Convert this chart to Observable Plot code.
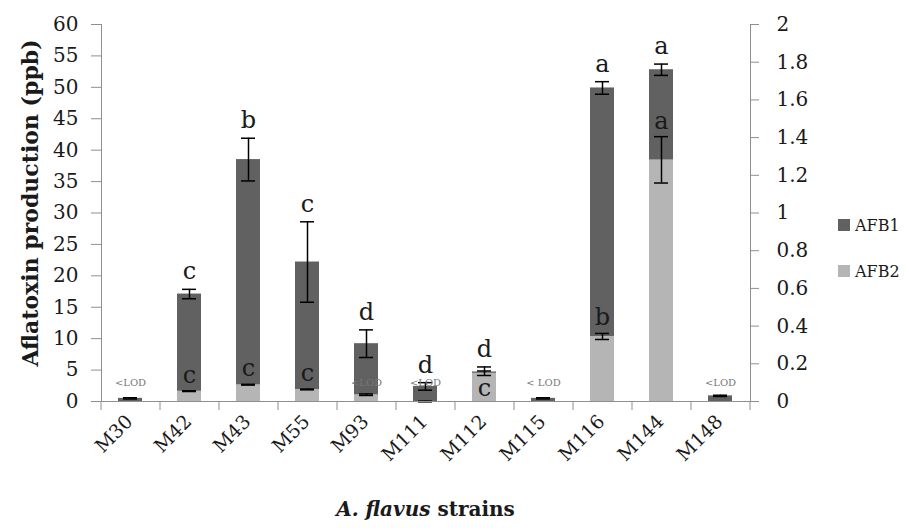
<!DOCTYPE html>
<html><head><meta charset="utf-8">
<script src="https://cdn.jsdelivr.net/npm/d3@7"></script>
<script src="https://cdn.jsdelivr.net/npm/@observablehq/plot@0.6"></script>
<style>
body{margin:0;background:#fff;}
#wrap{position:relative;width:909px;height:532px;overflow:hidden;}
#legend{position:absolute;left:838px;top:214px;font-family:"DejaVu Serif",serif;font-size:16px;color:#1a1a1a;}
#legend .item{display:flex;align-items:center;height:22px;margin-bottom:24px;}
#legend .sw{display:inline-block;width:12px;height:12px;margin-right:5px;}
#xtitle{position:absolute;left:101px;width:649px;top:498px;text-align:center;font-family:"DejaVu Serif",serif;font-weight:bold;font-size:20px;line-height:22px;color:#1a1a1a;}
</style></head><body>
<div id="wrap"></div>
<script>
// ---- data ----
const strains = ["M30","M42","M43","M55","M93","M111","M112","M115","M116","M144","M148"];
const afb1 = [0.5, 17.1, 38.5, 22.2, 9.2, 2.4, 4.7, 0.5, 49.9, 52.8, 0.9];          // ppb, left axis
const afb1Err = [0.1, 0.75, 3.4, 6.4, 2.2, 0.6, 0.8, 0.1, 1.0, 0.9, 0.1];
const afb2 = [0, 0.055, 0.089, 0.064, 0.036, 0, 0.15, 0, 0.345, 1.282, 0];         // ppb, right axis
const afb2Err = [0, 0.002, 0.002, 0.002, 0.004, 0.002, 0.012, 0, 0.016, 0.123, 0];
const letters1 = ["", "c", "b", "c", "d", "d", "d", "", "a", "a", ""];
const letters2 = ["", "c", "c", "c", "", "", "c", "", "b", "a", ""];
const letters2Pos = ["", "above", "above", "above", "", "", "inside", "", "above", "above", ""];
const lodLabels = ["<LOD", "", "", "", "<LOD", "<LOD", "", "< LOD", "", "", "<LOD"];
const leftTicks = [0,5,10,15,20,25,30,35,40,45,50,55,60];
const rightTicks = [0,0.2,0.4,0.6,0.8,1,1.2,1.4,1.6,1.8,2];
const seriesNames = ["AFB1", "AFB2"];
const seriesColors = ["#616161", "#b5b5b5"];

// ---- layout ----
const W = 909, H = 532, ML = 101, MR = 159, MT = 24, MB = 131;
const leftMax = leftTicks[leftTicks.length-1], rightMax = rightTicks[rightTicks.length-1];
const k = leftMax / rightMax;
const step = (W - ML - MR) / strains.length;
const gray = "#8f8f8f", ink = "#1a1a1a";

const rows = strains.map((s, i) => ({
  s, b1: afb1[i], e1: afb1Err[i], b2: afb2[i] * k, e2: afb2Err[i] * k,
  l1: letters1[i], l2: letters2[i], p2: letters2Pos[i], lod: lodLabels[i]
}));

const capOpts = {x: "s", stroke: "black", strokeWidth: 1.5, insetLeft: 5, insetRight: 5};

const chart = Plot.plot({
  width: W, height: H, marginLeft: ML, marginRight: MR, marginTop: MT, marginBottom: MB,
  style: {fontFamily: "DejaVu Serif, serif", background: "white", color: ink, overflow: "visible"},
  x: {domain: strains, paddingInner: 0.59, paddingOuter: 0.295, label: null},
  y: {domain: [0, leftMax], label: null},
  marks: [
    // AFB1 bars and errors
    Plot.barY(rows, {x: "s", y: "b1", fill: seriesColors[0]}),
    Plot.ruleX(rows, {x: "s", y1: d => d.b1 - d.e1, y2: d => d.b1 + d.e1, stroke: "black", strokeWidth: 1.5}),
    Plot.tickY(rows, {...capOpts, y: d => d.b1 - d.e1}),
    Plot.tickY(rows, {...capOpts, y: d => d.b1 + d.e1}),
    // AFB2 bars (secondary axis) in front
    Plot.barY(rows.filter(d => d.b2 > 0), {x: "s", y: "b2", fill: seriesColors[1]}),
    Plot.ruleX(rows.filter(d => d.e2 > 0), {x: "s", y1: d => d.b2 - d.e2, y2: d => d.b2 + d.e2, stroke: "black", strokeWidth: 1.5}),
    Plot.tickY(rows.filter(d => d.e2 > 0), {...capOpts, y: d => d.b2 - d.e2}),
    Plot.tickY(rows.filter(d => d.e2 > 0), {...capOpts, y: d => d.b2 + d.e2}),
    // frame lines
    Plot.frame({anchor: "left", stroke: gray}),
    Plot.frame({anchor: "right", stroke: gray}),
    Plot.frame({anchor: "bottom", stroke: gray}),
    // category boundary ticks
    Plot.ruleX(strains, {x: d => d, y1: 0, y2: 0, insetBottom: -9, dx: -step / 2, stroke: gray}),
    Plot.ruleX(strains.slice(-1), {x: d => d, y1: 0, y2: 0, insetBottom: -9, dx: step / 2, stroke: gray}),
    // axes
    Plot.axisY(leftTicks, {anchor: "left", tickSize: 10, tickPadding: 13, fontSize: 20, stroke: gray, fill: ink, label: null}),
    Plot.axisY(rightTicks.map(t => t * k), {anchor: "right", tickSize: 8, tickPadding: 18, fontSize: 20, stroke: gray, fill: ink,
      tickFormat: d => String(+(d / k).toFixed(2)), label: null}),
    Plot.axisX({tickSize: 0, tickRotate: -45, tickPadding: 17, dx: -1, fontSize: 19, fill: ink, label: null}),
    // y axis title
    Plot.text(["Aflatoxin production (ppb)"], {frameAnchor: "left", textAnchor: "middle", dx: -71, dy: -10, rotate: -90, fontSize: 22, fontWeight: "bold", fill: ink}),
    // significance letters
    Plot.text(rows.filter(d => d.l1), {x: "s", y: d => d.b1 + d.e1, text: "l1", dy: -10, lineAnchor: "bottom", fontSize: 24, fill: ink}),
    Plot.text(rows.filter(d => d.p2 === "above"), {x: "s", y: d => d.b2 + d.e2, text: "l2", dy: -8, lineAnchor: "bottom", fontSize: 24, fill: ink}),
    Plot.text(rows.filter(d => d.p2 === "inside"), {x: "s", y: d => d.b2, text: "l2", dy: 6, lineAnchor: "top", fontSize: 24, fill: ink}),
    // <LOD labels
    Plot.text(rows.filter(d => d.lod), {x: "s", text: "lod", frameAnchor: "bottom", dy: -16, fontSize: 10, fill: "#777"})
  ]
});

const wrap = document.getElementById("wrap");
wrap.appendChild(chart);

const legend = document.createElement("div");
legend.id = "legend";
seriesNames.forEach((n, i) => {
  const it = document.createElement("div");
  it.className = "item";
  const sw = document.createElement("span");
  sw.className = "sw"; sw.style.background = seriesColors[i];
  it.appendChild(sw);
  it.appendChild(document.createTextNode(n));
  legend.appendChild(it);
});
wrap.appendChild(legend);

const xt = document.createElement("div");
xt.id = "xtitle";
xt.innerHTML = "<i>A. flavus</i> strains";
wrap.appendChild(xt);
</script>
</body></html>
